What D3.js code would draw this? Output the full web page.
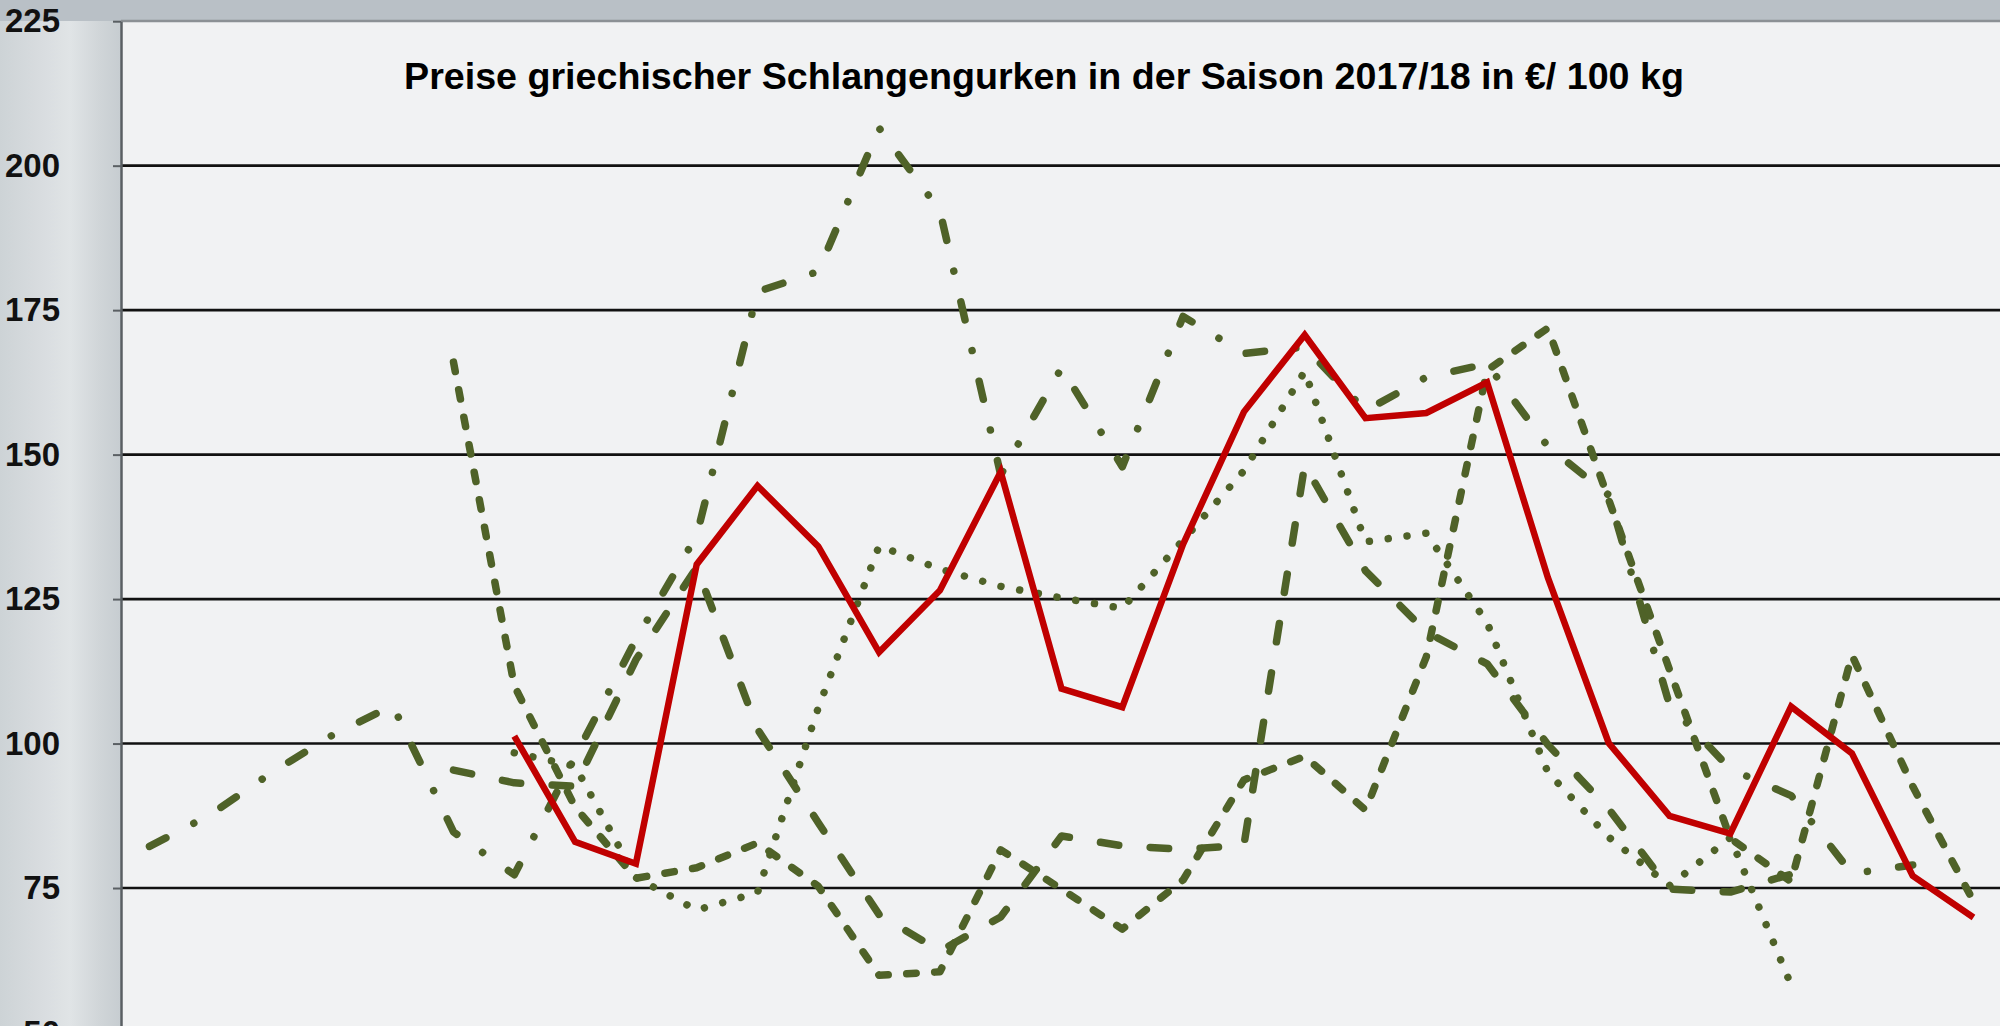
<!DOCTYPE html>
<html lang="de">
<head>
<meta charset="UTF-8">
<title>Preise griechischer Schlangengurken</title>
<script src="https://cdn.jsdelivr.net/npm/d3@7"></script>
<style>
  html, body { margin: 0; padding: 0; overflow: hidden; background: #c8cdd1; }
  text { font-family: "Liberation Sans", Arial, sans-serif; font-weight: bold; }
</style>
</head>
<body>
<script>
	// Kalenderwochen der Saison (x-Kategorien, unten abgeschnitten)
	var weeks = ["41", "42", "43", "44", "45", "46", "47", "48", "49", "50", "51", "52",
		"1", "2", "3", "4", "5", "6", "7", "8", "9", "10", "11", "12", "13", "14", "15", "16", "17", "18", "19"];
	var yTicks = [50, 75, 100, 125, 150, 175, 200, 225];

	// Preise in EUR / 100 kg, null = keine Notierung
	var season1718 = [null, null, null, null, null, null, 101.3, 83, 79.2, 131, 144.6, 134.1, 115.8, 126.5,
		147, 109.5, 106.3, 134.5, 157.4, 170.7, 156.3, 157.2, 162.5, 128.7, 100.1, 87.5, 84.4, 106.4, 98.3, 77.1, 69.9];
	var seasonA = [82.2, 87.7, 94.9, 101.4, 106.6, 84.7, 77.3, 97.7, 118, 136, 178.2, 181.7, 206.5, 192.2,
		146.5, 165, 147.9, 173.9, 167.5, 168.6, 157.6, 163.4, 165.7, 151.4, 143, 106.7, 95.6, 91, 77.5, 79, null];
	var seasonB = [null, null, null, null, null, 166, 110, 89, 76.7, 78.5, 82.8, 75.3, 59.9, 60.5,
		81.6, 74.8, 67.9, 76.4, 93.7, 97.8, 88.5, 115, 164.6, 171.9, 142.2, 112.8, 83.6, 76.1, 115.3, 92.6, 72.7];
	var seasonC = [null, null, null, null, null, null, 98.4, 96.1, 76.8, 71.2, 74.2, 106.2, 134.2, 130.2,
		127.2, 125.2, 123.4, 135.2, 147.2, 164.4, 134.9, 136.4, 120.9, 95, 83.8, 75.4, 83.7, 58.2, null, null, null];
	var seasonD = [null, null, null, null, null, 95.4, 93.2, 92.6, 114.5, 130.5, 102.5, 86.3, 70.4, 64.1,
		70, 84, 82.3, 81.7, 82.4, 148.2, 129.9, 119.3, 113.8, 99.8, 88.7, 74.8, 74.3, 77.4, null, null, null];

	var width = 2000, height = 1026;
	var plot = {left: 121, top: 21, right: 2000, bottom: 1026};

	var svg = d3.select("body").append("svg").attr("width", width).attr("height", height);

	// Hintergrund (verblasstes Foto angedeutet)
	var defs = svg.append("defs");
	var bg = defs.append("linearGradient").attr("id", "bgGrad");
	bg.append("stop").attr("offset", "0%").attr("stop-color", "#cdd3d6");
	bg.append("stop").attr("offset", "2%").attr("stop-color", "#d8dcdf");
	bg.append("stop").attr("offset", "3.5%").attr("stop-color", "#e0e4e6");
	bg.append("stop").attr("offset", "5%").attr("stop-color", "#d0d5d8");
	bg.append("stop").attr("offset", "6%").attr("stop-color", "#c7cdd1");
	bg.append("stop").attr("offset", "100%").attr("stop-color", "#c3c9cd");
	svg.append("rect").attr("width", width).attr("height", height).attr("fill", "url(#bgGrad)");
	svg.append("rect").attr("width", width).attr("height", plot.top).attr("fill", "#b9c0c6");
	svg.append("rect")
		.attr("x", plot.left).attr("y", plot.top)
		.attr("width", plot.right - plot.left).attr("height", plot.bottom - plot.top)
		.attr("fill", "#f1f2f3");
	svg.append("line")
		.attr("x1", plot.left).attr("x2", plot.right)
		.attr("y1", plot.top).attr("y2", plot.top)
		.attr("stroke", "#8c9195").attr("stroke-width", 2.5);

	// Skalen
	var x = d3.scalePoint().domain(weeks).range([149.5, 1973.5]);
	var y = d3.scaleLinear().domain([50, 225]).range([1032.5, 21.2]);

	// Gitterlinien
	svg.append("g").selectAll("line")
		.data(yTicks.filter(function (t) { return t > 50 && t < 225; }))
		.enter().append("line")
		.attr("x1", plot.left).attr("x2", plot.right)
		.attr("y1", function (d) { return y(d); })
		.attr("y2", function (d) { return y(d); })
		.attr("stroke", "#111").attr("stroke-width", 2.6);

	// y-Achse
	var yAxis = d3.axisLeft(y).tickValues(yTicks).tickSize(8).tickSizeOuter(0).tickPadding(53);
	var gy = svg.append("g").attr("transform", "translate(" + plot.left + ",0)").call(yAxis);
	gy.select(".domain").attr("stroke", "#5a5f63").attr("stroke-width", 2.5);
	gy.selectAll(".tick line").attr("stroke", "#5a5f63").attr("stroke-width", 2);
	gy.selectAll(".tick text")
		.attr("font-size", 33).attr("font-weight", "bold").attr("fill", "#111")
		.attr("font-family", "Liberation Sans, Arial, sans-serif");

	// Linien
	var line = d3.line()
		.defined(function (d) { return d != null; })
		.x(function (d, i) { return x(weeks[i]); })
		.y(function (d) { return y(d); });

	var green = "#4f6228";
	var greenSeries = [
		{values: seasonA, dash: "18.5 31.5 0.01 31.5"},
		{values: seasonB, dash: "9.5 18.5"},
		{values: seasonC, dash: "0.01 19"},
		{values: seasonD, dash: "18.5 31.5"}
	];
	svg.append("g").selectAll("path").data(greenSeries).enter().append("path")
		.attr("d", function (s) { return line(s.values); })
		.attr("fill", "none")
		.attr("stroke", green)
		.attr("stroke-width", 7.5)
		.attr("stroke-linecap", "round")
		.attr("stroke-linejoin", "round")
		.attr("stroke-dasharray", function (s) { return s.dash; });

	svg.append("path")
		.attr("d", line(season1718))
		.attr("fill", "none")
		.attr("stroke", "#c00000")
		.attr("stroke-width", 6.5)
		.attr("stroke-linejoin", "miter");

	// Titel, Breite an Vorlage angepasst
	var title = svg.append("text")
		.attr("x", 1044).attr("y", 89)
		.attr("text-anchor", "middle")
		.attr("font-size", 34).attr("fill", "#000")
		.text("Preise griechischer Schlangengurken in der Saison 2017/18 in €/ 100 kg");
	var tw = title.node().getComputedTextLength();
	title.attr("font-size", 34 * 1280 / tw);
</script>
</body>
</html>
